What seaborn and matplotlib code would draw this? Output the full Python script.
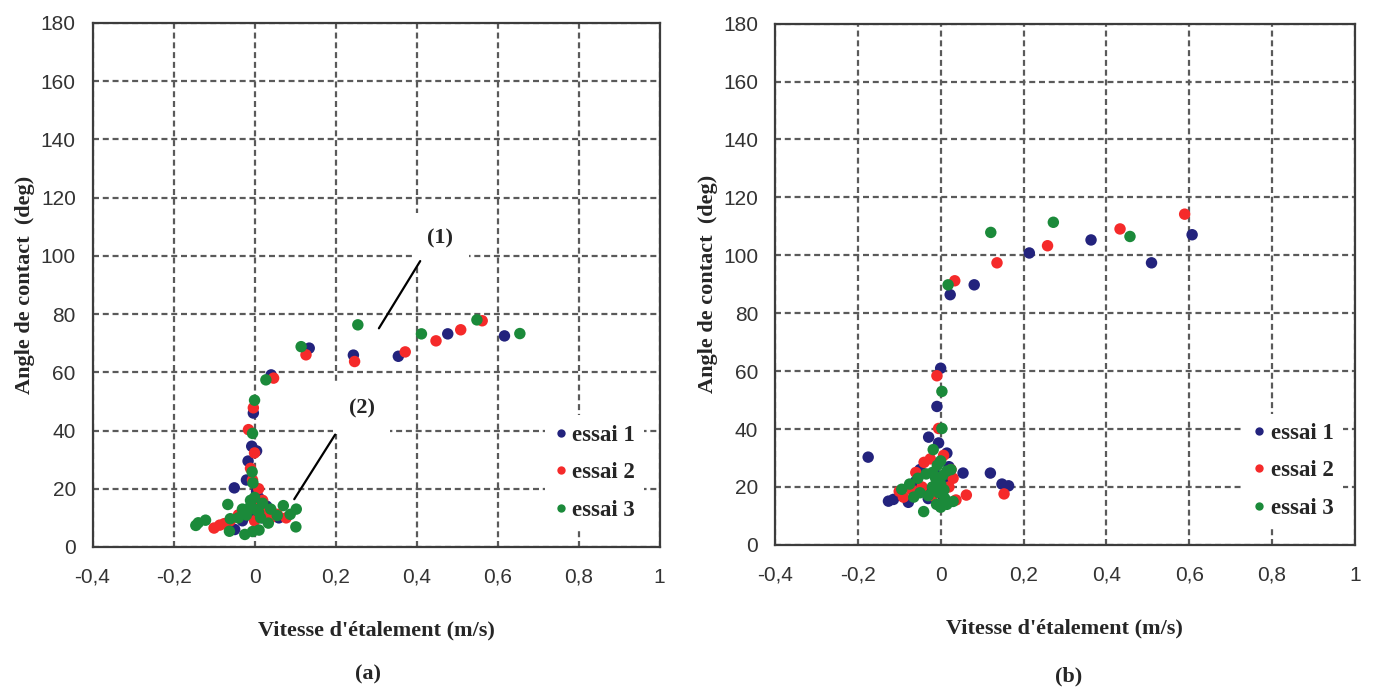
import matplotlib
matplotlib.use("Agg")
import matplotlib.pyplot as plt
import pandas as pd
import seaborn as sns
from matplotlib.lines import Line2D

# ---------------- data ----------------
series_names = ["essai 1", "essai 2", "essai 3"]
series_colors = ["#23237d", "#f52a2a", "#1b8a3a"]

# panel (a)
a_e1_x = [0.041, 0.135, 0.244, 0.355, 0.477, 0.617, -0.003, -0.007, -0.016, -0.050, -0.049,
          0.042, -0.020, 0.010, -0.010, 0.020, -0.030, 0.030, 0.000, -0.015, 0.005, 0.060, 0.005]
a_e1_y = [59.1, 68.3, 65.9, 65.5, 73.2, 72.5, 46.0, 34.6, 29.5, 20.3, 6.0,
          12.0, 23.0, 17.0, 12.0, 10.0, 9.0, 14.0, 15.0, 11.0, 19.0, 10.0, 33.0]
a_e2_x = [0.047, 0.127, 0.247, 0.372, 0.448, 0.509, 0.562, -0.003, -0.015, 0.000, -0.010,
          -0.086, -0.100, -0.075, 0.056, 0.078, 0.010, 0.020, -0.020, 0.030, -0.040, 0.000,
          0.040, -0.060, 0.015, -0.005]
a_e2_y = [58.0, 66.0, 63.7, 67.0, 70.8, 74.6, 77.7, 47.8, 40.3, 32.3, 27.0,
          7.5, 6.5, 8.0, 11.2, 10.0, 20.0, 16.0, 12.0, 12.0, 11.0, 9.0,
          10.0, 9.0, 14.0, 23.0]
a_e3_x = [0.028, 0.115, 0.255, 0.412, 0.549, 0.655, 0.000, -0.005, -0.006, -0.004, -0.066,
          -0.139, -0.121, -0.145, -0.062, -0.024, -0.005, 0.071, 0.103, 0.102, 0.088, 0.056,
          0.034, 0.000, -0.010, 0.010, 0.020, -0.020, -0.030, 0.000, -0.040, 0.040, 0.015,
          -0.010, -0.060, 0.011]
a_e3_y = [57.4, 68.8, 76.3, 73.2, 78.0, 73.3, 50.4, 39.0, 25.8, 22.0, 14.6,
          8.3, 9.2, 7.4, 5.4, 4.3, 5.3, 14.2, 13.0, 6.9, 11.2, 10.8,
          8.2, 13.0, 14.0, 12.0, 15.0, 11.0, 13.0, 17.0, 10.0, 13.0, 10.0,
          16.0, 9.7, 5.8]

# panel (b)
b_e1_x = [0.607, 0.363, 0.214, 0.509, 0.081, 0.023, 0.000, -0.009, -0.029, -0.005, 0.015,
          -0.175, 0.054, 0.120, 0.148, 0.164, -0.126, -0.114, -0.078, -0.030, 0.000, -0.050,
          -0.015, 0.010, 0.020, -0.060, -0.040, 0.005]
b_e1_y = [107.1, 105.3, 100.8, 97.4, 89.8, 86.4, 61.0, 47.8, 37.2, 35.2, 31.7,
          30.3, 24.8, 24.8, 21.0, 20.4, 15.1, 15.7, 14.7, 16.0, 20.0, 26.0,
          25.0, 22.0, 27.0, 22.0, 19.0, 17.0]
b_e2_x = [0.589, 0.433, 0.258, 0.136, 0.034, -0.009, -0.005, -0.025, 0.007, -0.040, 0.153,
          0.062, 0.037, -0.090, -0.100, -0.045, 0.020, 0.030, -0.020, -0.060, 0.010, -0.070,
          0.025]
b_e2_y = [114.2, 109.1, 103.3, 97.4, 91.2, 58.4, 40.2, 29.7, 30.9, 28.5, 17.6,
          17.2, 15.5, 16.5, 18.5, 20.0, 20.0, 23.0, 17.0, 25.0, 15.0, 19.0,
          26.0]
b_e3_x = [0.272, 0.121, 0.457, 0.018, 0.003, 0.003, -0.018, -0.041, -0.094, -0.075, -0.055,
          -0.035, -0.020, -0.008, 0.000, 0.005, 0.015, 0.025, -0.020, -0.005, 0.010, -0.010,
          0.000, 0.015, 0.030, -0.030, -0.050, -0.065, 0.000, -0.012, 0.008]
b_e3_y = [111.4, 107.9, 106.5, 89.8, 53.0, 40.2, 32.9, 11.5, 19.2, 21.0, 23.0,
          24.5, 25.0, 27.5, 29.0, 24.0, 25.5, 26.0, 20.0, 18.0, 16.0, 14.0,
          13.0, 14.0, 15.0, 17.0, 18.0, 16.5, 21.0, 23.0, 19.0]

x_ticks = [-0.4, -0.2, 0, 0.2, 0.4, 0.6, 0.8, 1]
x_tick_labels = ["-0,4", "-0,2", "0", "0,2", "0,4", "0,6", "0,8", "1"]
y_ticks = [0, 20, 40, 60, 80, 100, 120, 140, 160, 180]
x_label = "Vitesse d'étalement (m/s)"
y_label = "Angle de contact  (deg)"

# annotations of panel (a): text position and line start / end
ann_texts = ["(1)", "(2)"]
ann_text_x = [0.458, 0.265]
ann_text_y = [106.0, 47.5]
ann_line_x0 = [0.409, 0.199]
ann_line_y0 = [98.2, 38.6]
ann_line_x1 = [0.307, 0.098]
ann_line_y1 = [75.1, 16.4]

# ---------------- style ----------------
sns.set_style("white")
plt.rcParams["font.family"] = ["Liberation Sans", "DejaVu Sans"]

SERIF = ["Liberation Serif", "DejaVu Serif"]
GRID_C = "#5a5a5a"


def make_df(xs, ys):
    frames = []
    for name, x, y in zip(series_names, xs, ys):
        frames.append(pd.DataFrame({"v": x, "angle": y, "essai": name}))
    return pd.concat(frames, ignore_index=True)


df_a = make_df([a_e1_x, a_e2_x, a_e3_x], [a_e1_y, a_e2_y, a_e3_y])
df_b = make_df([b_e1_x, b_e2_x, b_e3_x], [b_e1_y, b_e2_y, b_e3_y])

fig = plt.figure(figsize=(13.75, 6.95), dpi=100)
ax_a = fig.add_axes([0.0673, 0.2130, 0.4124, 0.7540])
ax_b = fig.add_axes([0.5636, 0.2160, 0.4218, 0.7500])

palette = dict(zip(series_names, series_colors))

for ax, df in [(ax_a, df_a), (ax_b, df_b)]:
    sns.scatterplot(data=df, x="v", y="angle", hue="essai", hue_order=series_names,
                    palette=palette, s=68, edgecolor="none", linewidth=0,
                    legend=False, ax=ax, zorder=3)
    ax.set_xlim(-0.4, 1.0)
    ax.set_ylim(0, 180)
    ax.set_xticks(x_ticks)
    ax.set_xticklabels(x_tick_labels)
    ax.set_yticks(y_ticks)
    ax.tick_params(axis="both", length=0, labelsize=15, colors="#333333")
    ax.tick_params(axis="x", pad=15)
    ax.tick_params(axis="y", pad=12)
    ax.grid(True, color=GRID_C, linestyle=(0, (2.7, 1.7)), linewidth=1.6)
    ax.set_axisbelow(True)
    for sp in ax.spines.values():
        sp.set_color("#3c3c3c")
        sp.set_linewidth(1.6)
        sp.set_visible(True)
    ax.set_xlabel(x_label, fontsize=16, fontweight="bold", family=SERIF, labelpad=24)
    ax.set_ylabel(y_label, fontsize=16, fontweight="bold", family=SERIF, labelpad=4)

    handles = [Line2D([], [], marker="o", linestyle="none", markersize=6,
                      markerfacecolor=c, markeredgecolor="none") for c in series_colors]
    leg = ax.legend(handles, series_names, loc="center left",
                    bbox_to_anchor=(0.777 if ax is ax_a else 0.788, 0.142),
                    frameon=True, facecolor="white", edgecolor="none", framealpha=1,
                    prop={"family": SERIF, "weight": "bold", "size": 16.5},
                    handlelength=0.6, handletextpad=0.2, labelspacing=0.72,
                    borderpad=0.4, fancybox=False)
    leg.set_zorder(4)

# annotations in panel (a)
for t, tx, ty, x0, y0, x1, y1 in zip(ann_texts, ann_text_x, ann_text_y,
                                      ann_line_x0, ann_line_y0, ann_line_x1, ann_line_y1):
    ax_a.text(tx, ty, t, ha="center", va="center", fontsize=16, fontweight="bold",
              family=SERIF, zorder=5,
              bbox=dict(boxstyle="square,pad=0.7", facecolor="white", edgecolor="none"))
    ax_a.plot([x0, x1], [y0, y1], color="black", linewidth=1.6, zorder=5)

fig.text(0.2680, 1 - 674 / 695, "(a)", ha="center", va="center", fontsize=16,
         fontweight="bold", family=SERIF)
fig.text(0.7770, 1 - 676 / 695, "(b)", ha="center", va="center", fontsize=16,
         fontweight="bold", family=SERIF)

fig.savefig("out.png", dpi=100)
